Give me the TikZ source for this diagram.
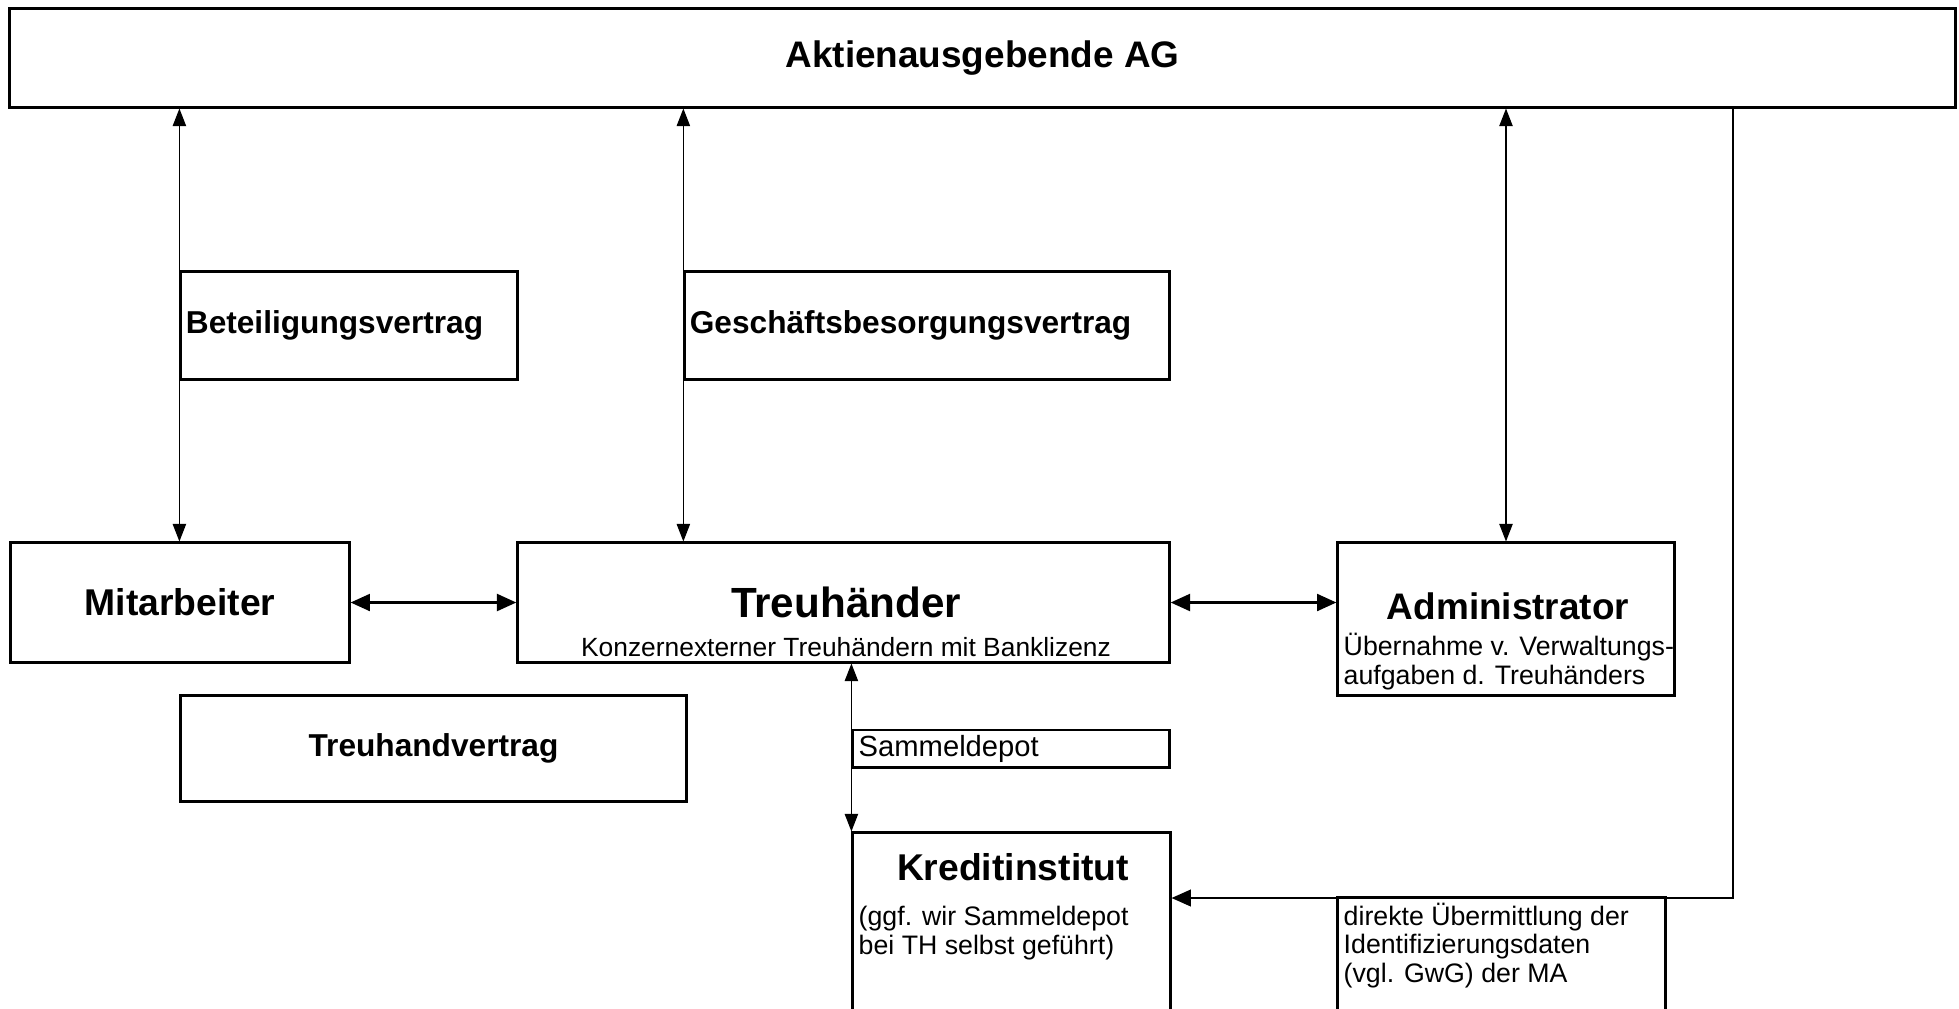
\documentclass[tikz,border=0pt]{standalone}
\usepackage{fontspec}
\setmainfont{Liberation Sans}
\usetikzlibrary{positioning,arrows.meta}

\begin{document}
\begin{tikzpicture}[%
  x=0.01cm, y=-0.01cm,
  box/.style={draw, line width=0.85pt, inner sep=0pt,
    font=\bfseries\fontsize{9}{11}\selectfont},
  txt/.style={inner sep=0pt, align=left,
    font=\fontsize{7.6}{8.2}\selectfont},
  vpil/.style={{Triangle[length=5pt,width=3.8pt]}-{Triangle[length=5pt,width=3.8pt]},
    line width=0.35pt},
  hpil/.style={{Triangle[length=5.5pt,width=4.8pt]}-{Triangle[length=5.5pt,width=4.8pt]},
    line width=0.7pt}
  ]
  \useasboundingbox (0,0) rectangle (1959,1008);
  \clip (0,0) rectangle (1959,1008);
  %% Nodes
  \node[box, minimum width=19.45cm, minimum height=0.98cm,
    font=\bfseries\fontsize{10.5}{12}\selectfont] (AG) at (982.5,58) {Aktienausgebende AG};
  \node[box, text width=3.26cm, inner xsep=0.05cm, minimum height=1.07cm, align=left]
    (BV) at (349,325.5) {Beteiligungsvertrag};
  \node[box, text width=4.74cm, inner xsep=0.05cm, minimum height=1.07cm, align=left]
    (GV) at (927,325.5) {Geschäftsbesorgungsvertrag};
  \node[box, minimum width=3.38cm, minimum height=1.19cm,
    font=\bfseries\fontsize{10.6}{12}\selectfont] (MA) at (180,602.5) {Mitarbeiter};
  \node[box, minimum width=6.51cm, minimum height=1.19cm] (TH) at (843.5,602.5) {};
  \node[inner sep=0pt, font=\bfseries\fontsize{12}{14}\selectfont] (THtitel) at (846,602) {Treuhänder};
  \node[inner sep=0pt, font=\fontsize{7.5}{9}\selectfont] (THtext) at (846,647)
    {Konzernexterner Treuhändern mit Banklizenz};
  \node[box, minimum width=3.36cm, minimum height=1.52cm] (AD) at (1506,619) {};
  \node[inner sep=0pt, font=\bfseries\fontsize{10.5}{12}\selectfont] (ADtitel) at (1508,606) {Administrator};
  \node[txt, anchor=west] (ADtext) at (1343,661.5)
    {Übernahme v. Verwaltungs-\\aufgaben d. Treuhänders};
  \node[box, minimum width=5.05cm, minimum height=1.05cm] (TV) at (433.5,748.5) {Treuhandvertrag};
  \node[box, minimum width=3.16cm, minimum height=0.37cm] (SD) at (1011,748.5) {};
  \node[txt, anchor=west, font=\fontsize{8.3}{9}\selectfont] (SDtext) at (858,748.5) {Sammeldepot};
  \node[box, minimum width=3.17cm, minimum height=2.17cm] (KI) at (1011.5,941.5) {};
  \node[inner sep=0pt, font=\bfseries\fontsize{10.6}{12}\selectfont] (KItitel) at (1013,867) {Kreditinstitut};
  \node[txt, anchor=west] (KItext) at (858,933)
    {(ggf. wir Sammeldepot\\bei TH selbst geführt)};
  \node[box, minimum width=3.27cm, minimum height=1.52cm] (DU) at (1501.5,974) {};
  \node[txt, anchor=west] (DUtext) at (1343,945.5)
    {direkte Übermittlung der\\Identifizierungsdaten\\(vgl. GwG) der MA};
  \coordinate (knick) at (1733,898);
  %% Edges
  \draw[vpil] (BV.west |- AG.south) -- (BV.west |- MA.north);
  \draw[vpil] (GV.west |- AG.south) -- (GV.west |- TH.north);
  \draw[vpil] (AD.north |- AG.south) -- (AD.north);
  \draw[hpil] (MA.east) -- (TH.west);
  \draw[hpil] (TH.east) -- (TH.east -| AD.west);
  \draw[vpil] (SD.west |- TH.south) -- (KI.north west);
  \draw[line width=0.35pt, -{Triangle[length=5.5pt,width=4.8pt]}]
    (knick |- AG.south) -- (knick) -- (knick -| KI.east);
\end{tikzpicture}
\end{document}
